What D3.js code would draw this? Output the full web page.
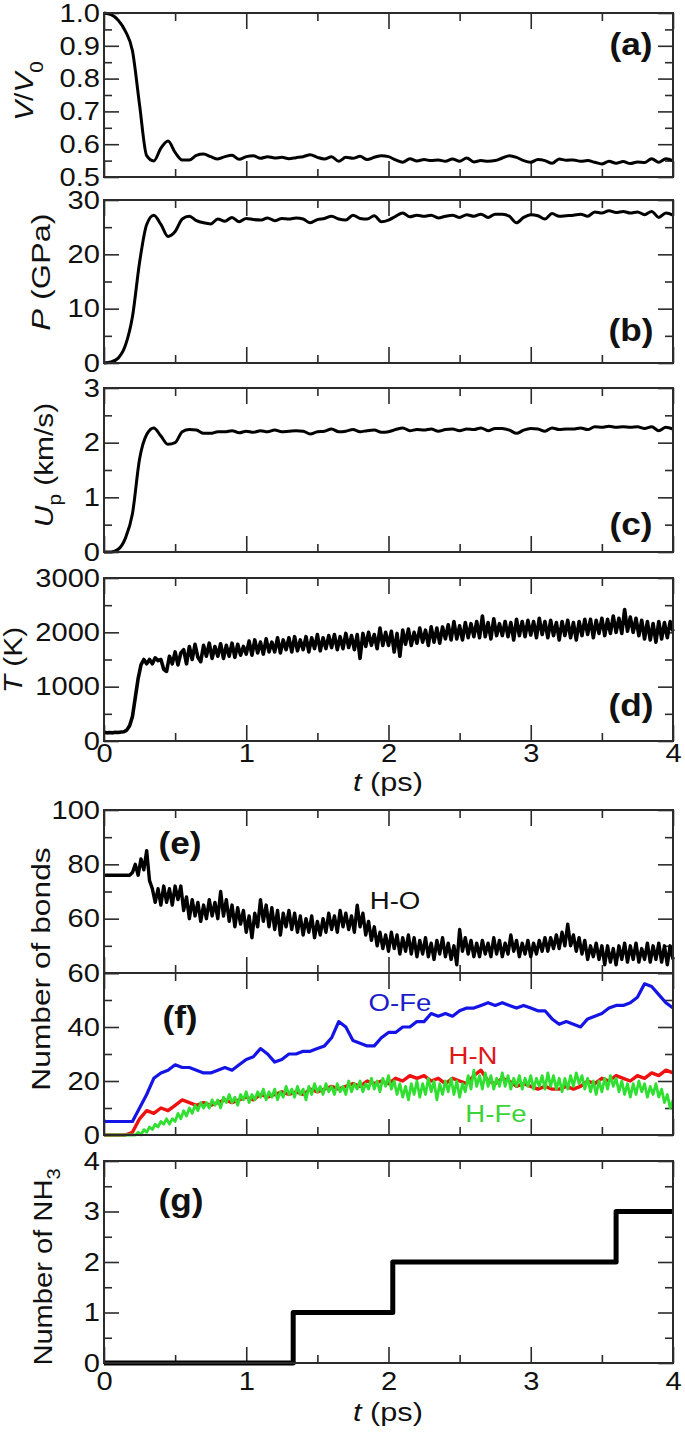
<!DOCTYPE html>
<html><head><meta charset="utf-8">
<script src="https://cdn.jsdelivr.net/npm/d3@7"></script>
<style>
body{margin:0;background:#fff}
svg text{font-family:"Liberation Sans",Arial,Helvetica,sans-serif}
</style>
</head><body>
<script>
// ---------------- data ----------------
const tDomain = [0, 4];
const xMajor = [0, 1, 2, 3, 4];
const xMinor = [0.5, 1.5, 2.5, 3.5];

// smooth series, sampled every 0.05 ps
const stepSmooth = 0.05;
const volume = [
  1.0,0.995,0.978,0.945,0.885,0.72,0.565,0.549,0.588,0.61,
  0.575,0.552,0.552,0.566,0.57,0.562,0.555,0.562,0.566,0.554,
  0.562,0.565,0.557,0.562,0.558,0.56,0.556,0.559,0.562,0.568,
  0.56,0.555,0.562,0.548,0.56,0.557,0.563,0.553,0.56,0.565,
  0.562,0.552,0.545,0.556,0.549,0.553,0.55,0.552,0.548,0.555,
  0.548,0.558,0.546,0.55,0.548,0.55,0.558,0.565,0.56,0.55,
  0.545,0.553,0.55,0.542,0.555,0.551,0.552,0.548,0.55,0.545,
  0.54,0.548,0.542,0.547,0.541,0.546,0.544,0.556,0.545,0.556,
  0.55];
const pressure = [
  0,0.2,0.9,3.2,8.5,18.5,25.5,27.2,25.5,23.3,
  24.2,26.5,27.0,26.2,25.8,25.6,26.5,26.1,26.8,26.0,
  26.6,26.4,26.3,26.7,26.2,26.6,26.5,26.7,26.5,25.8,
  26.4,26.6,27.0,26.5,26.3,27.2,26.6,26.5,27.1,26.0,
  26.3,27.0,27.6,26.9,27.2,27.0,27.2,26.7,27.0,27.2,
  26.8,27.3,27.0,27.4,26.8,27.4,27.4,27.0,25.8,26.8,
  27.3,27.1,26.5,27.5,27.0,27.1,27.2,27.4,27.0,27.8,
  27.6,28.0,27.7,27.9,27.6,27.8,27.3,27.9,26.8,27.6,
  27.2];
const particleVel = [
  0,0.0,0.05,0.25,0.7,1.7,2.15,2.27,2.12,1.97,
  2.0,2.2,2.24,2.23,2.17,2.17,2.2,2.2,2.22,2.18,
  2.21,2.19,2.22,2.2,2.23,2.2,2.21,2.22,2.21,2.16,
  2.2,2.21,2.25,2.2,2.21,2.24,2.2,2.22,2.23,2.19,
  2.2,2.24,2.27,2.22,2.24,2.23,2.25,2.21,2.24,2.25,
  2.22,2.25,2.24,2.27,2.22,2.26,2.26,2.23,2.17,2.23,
  2.26,2.25,2.21,2.27,2.24,2.25,2.25,2.27,2.24,2.29,
  2.28,2.3,2.28,2.29,2.28,2.29,2.26,2.29,2.22,2.28,
  2.25];
const bondOFe = [
  5,5,5,5,5,10,15,21,23,24,
  26,25,25,24,23,23,24,25,24,26,
  28,29,32,30,27,28,30,30,31,31,
  32,33,36,42,40,35,34,33,33,36,
  38,38,40,40,42,42,45,44,45,44,
  46,47,47,48,49,48,49,48,47,48,
  47,46,46,43,41,42,41,40,43,44,
  45,47,48,48,49,51,56,55,52,49,
  47];
const bondHN = [
  0,0,0,0,1,6,9,8,10,9,
  11,13,12,11,12,11,12,13,12,13,
  14,13,15,14,15,16,15,16,15,17,
  16,17,18,17,18,19,18,20,19,20,
  19,21,20,22,21,22,20,21,19,21,
  20,19,22,24,20,19,21,20,18,19,
  18,17,18,17,17,18,17,18,20,19,
  21,20,22,21,20,22,21,23,22,24,
  23];

// noisy series, sampled every 0.02 ps
const stepNoisy = 0.02;
const temperature = [
  160,150,155,150,160,155,165,170,200,280,
  450,800,1150,1400,1500,1420,1500,1420,1530,1480,
  1500,1320,1280,1560,1420,1640,1400,1620,1680,1420,
  1740,1500,1780,1540,1460,1760,1560,1800,1520,1740,
  1560,1790,1520,1760,1560,1800,1540,1780,1580,1740,
  1600,1840,1580,1860,1620,1820,1600,1880,1640,1820,
  1640,1900,1620,1860,1680,1900,1640,1920,1660,1860,
  1680,1920,1640,1900,1700,1960,1660,1900,1700,1940,
  1720,1960,1680,1920,1700,1980,1720,1940,1680,1960,
  1520,1980,1740,2000,1760,1960,1700,2080,1760,2000,
  1760,2020,1640,1980,1560,2040,1780,2060,1760,2000,
  1800,2080,1820,2040,1760,2100,1820,2080,1800,2100,
  1880,2140,1860,2200,1880,2120,1860,2180,1900,2160,
  1920,2200,1900,2300,1920,2180,1880,2250,1940,2160,
  1940,2200,1920,2180,1860,2240,1940,2200,1920,2220,
  1950,2200,1900,2260,1960,2200,1900,2220,1940,2180,
  1860,2200,1940,2220,1900,2180,1860,2200,1940,2240,
  1960,2240,1900,2220,1980,2260,1940,2240,1980,2300,
  2000,2260,1980,2420,2020,2280,2000,2260,1940,2220,
  1880,2200,1860,2160,1820,2200,1880,2180,1900,2200,
  2020];
const bondHO = [
  76,76,76,76,76,76,76,76,76,76,
  77,80,76,82,78,85,74,71,66,71,
  65,72,66,71,65,72,67,72,63,68,
  60,67,61,66,59,65,60,67,61,66,
  60,70,61,67,59,65,57,64,58,63,
  55,61,53,62,57,67,59,65,57,64,
  56,63,54,62,57,63,56,62,55,61,
  54,60,55,61,53,59,54,60,55,62,
  56,61,55,63,57,62,56,61,55,65,
  57,62,54,59,52,57,50,55,49,54,
  48,55,49,54,47,53,48,54,47,53,
  46,52,47,53,46,51,45,52,47,53,
  46,51,45,50,43,56,48,53,47,52,
  46,51,46,52,47,51,46,53,47,52,
  46,51,47,54,48,52,46,51,47,52,
  46,51,47,52,48,53,48,53,49,54,
  49,55,50,58,50,54,48,53,47,52,
  45,50,46,51,45,50,43,50,44,49,
  43,50,45,51,44,50,45,51,44,49,
  45,51,44,50,45,51,44,50,43,50,
  45];
const bondHFe = [
  0,0,0,0,0,0,0,0,0,0,
  0,0,1,0,2,1,3,2,4,3,
  5,4,6,4,6,5,8,6,9,7,
  10,8,11,9,12,10,12,10,13,11,
  13,10,14,12,15,12,14,11,15,13,
  16,12,15,13,16,14,17,13,16,14,
  17,13,16,14,18,15,17,14,18,15,
  17,13,18,15,19,16,18,15,19,16,
  18,15,19,16,18,15,20,16,19,17,
  20,16,19,17,21,17,20,16,21,18,
  22,17,20,15,19,14,18,13,19,15,
  20,14,19,15,21,16,20,13,19,15,
  20,16,21,15,20,14,19,16,22,17,
  24,18,22,17,23,18,22,17,21,18,
  23,18,22,17,21,18,22,17,21,18,
  22,17,21,18,22,17,23,18,22,17,
  21,16,21,17,22,18,23,19,22,17,
  21,16,20,15,20,16,21,17,22,18,
  21,16,20,15,19,14,19,15,20,16,
  19,14,18,15,19,14,17,12,15,10,
  13];

// number of NH3 molecules: step times and counts
const nh3Times  = [0, 1.33, 2.03, 3.6, 4];
const nh3Counts = [0, 1, 2, 3, 3];

// ---------------- drawing ----------------
const W = 685, H = 1433;
const svg = d3.select("body").append("svg").attr("width", W).attr("height", H);
const x = d3.scaleLinear().domain(tDomain).range([104, 673]);
const FRAME = "#2b2b2b";
const TICKFS = 26;
const FONT = '"Liberation Sans",Arial,sans-serif';

function toPts(vals, step){ return vals.map((v,i)=>[i*step, v]); }

// widen horizontal text around its anchor x
function widen(sel, s){
  sel.each(function(){
    const xa = +(this.getAttribute("x") || 0);
    d3.select(this).attr("transform", `translate(${xa},0) scale(${s},1) translate(${-xa},0)`);
  });
}

function axes(top, bottom, domain, yMajor, yMinor, yLabels, fmt, xLabels){
  const y = d3.scaleLinear().domain(domain).range([bottom, top]);
  const g = svg.append("g");
  const L = x.range()[0], R = x.range()[1];
  const tick = (gen)=> (sel)=>{ sel.call(gen); sel.select(".domain").remove();
      sel.selectAll("line").attr("stroke", FRAME).attr("stroke-width", 1.6); };
  g.append("g").attr("transform",`translate(${L},0)`).call(tick(d3.axisLeft(y).tickValues(yMajor).tickSizeInner(-15).tickSizeOuter(0).tickFormat("")));
  g.append("g").attr("transform",`translate(${L},0)`).call(tick(d3.axisLeft(y).tickValues(yMinor).tickSizeInner(-8).tickSizeOuter(0).tickFormat("")));
  g.append("g").attr("transform",`translate(${R},0)`).call(tick(d3.axisRight(y).tickValues(yMajor).tickSizeInner(-15).tickSizeOuter(0).tickFormat("")));
  g.append("g").attr("transform",`translate(${R},0)`).call(tick(d3.axisRight(y).tickValues(yMinor).tickSizeInner(-8).tickSizeOuter(0).tickFormat("")));
  g.append("g").attr("transform",`translate(0,${top})`).call(tick(d3.axisTop(x).tickValues(xMajor).tickSizeInner(-16).tickSizeOuter(0).tickFormat("")));
  g.append("g").attr("transform",`translate(0,${top})`).call(tick(d3.axisTop(x).tickValues(xMinor).tickSizeInner(-8).tickSizeOuter(0).tickFormat("")));
  g.append("g").attr("transform",`translate(0,${bottom})`).call(tick(d3.axisBottom(x).tickValues(xMajor).tickSizeInner(-16).tickSizeOuter(0).tickFormat("")));
  g.append("g").attr("transform",`translate(0,${bottom})`).call(tick(d3.axisBottom(x).tickValues(xMinor).tickSizeInner(-8).tickSizeOuter(0).tickFormat("")));
  const yl = g.append("g").attr("transform",`translate(${L},0)`)
    .call(d3.axisLeft(y).tickValues(yLabels).tickSize(0).tickPadding(4).tickFormat(fmt));
  yl.select(".domain").remove();
  yl.selectAll("text").attr("font-size", TICKFS).attr("fill","#111").attr("font-family",FONT).call(widen, 1.12);
  if (xLabels){
    const xl = g.append("g").attr("transform",`translate(0,${bottom})`)
      .call(d3.axisBottom(x).tickValues(xMajor).tickSize(0).tickPadding(xLabels).tickFormat(d3.format("d")));
    xl.select(".domain").remove();
    xl.selectAll("text").attr("font-size", TICKFS).attr("fill","#111").attr("font-family",FONT).call(widen, 1.12);
  }
  return {y, g, top, bottom};
}

function frame(p){
  svg.append("rect").attr("x", x.range()[0]).attr("y", p.top)
    .attr("width", x.range()[1]-x.range()[0]).attr("height", p.bottom-p.top)
    .attr("fill","none").attr("stroke", FRAME).attr("stroke-width", 2);
}

function drawLine(p, pts, color, width, curve){
  const line = d3.line().x(d=>x(d[0])).y(d=>p.y(d[1])).curve(curve || d3.curveLinear);
  svg.append("path").datum(pts).attr("d", line).attr("fill","none")
    .attr("stroke", color).attr("stroke-width", width).attr("stroke-linejoin","round");
}

function label(txt, cx, by, opts={}){
  return svg.append("text").attr("x", cx).attr("y", by).attr("text-anchor", opts.anchor||"middle")
    .attr("font-size", opts.size||32).attr("font-weight", opts.weight||"bold")
    .attr("fill", opts.color||"#111").text(txt).call(widen, opts.stretch||1.1);
}

function yTitle(bx, cy, parts, stretch){
  const t = svg.append("text").attr("transform",`translate(${bx},${cy}) rotate(-90) scale(${stretch||1.2},1)`)
    .attr("text-anchor","middle").attr("font-size",26).attr("fill","#111");
  parts.forEach(pt=>{
    const s = t.append("tspan").text(pt.t);
    if (pt.i) s.attr("font-style","italic");
    if (pt.sub) s.attr("font-size",18).attr("dy", pt.sub);
    if (pt.unsub) s.attr("dy", pt.unsub);
  });
}

const f1 = d3.format(".1f"), fd = d3.format("d");

// (a)
const pa = axes(13, 177, [0.5,1.0], [0.5,0.6,0.7,0.8,0.9,1.0], [0.55,0.65,0.75,0.85,0.95], [0.5,0.6,0.7,0.8,0.9,1.0], f1, null);
drawLine(pa, toPts(volume, stepSmooth), "#000", 3, d3.curveMonotoneX);
frame(pa);
// (b)
const pb = axes(200, 363, [0,30], [0,10,20,30], [5,15,25], [0,10,20,30], fd, null);
drawLine(pb, toPts(pressure, stepSmooth), "#000", 3, d3.curveMonotoneX);
frame(pb);
// (c)
const pc = axes(388, 552, [0,3], [0,1,2,3], [0.5,1.5,2.5], [0,1,2,3], fd, null);
drawLine(pc, toPts(particleVel, stepSmooth), "#000", 3, d3.curveMonotoneX);
frame(pc);
// (d)
const pd = axes(578, 741, [0,3000], [0,1000,2000,3000], [500,1500,2500], [0,1000,2000,3000], fd, 3);
drawLine(pd, toPts(temperature, stepNoisy), "#000", 3.6);
frame(pd);
// (e)
const pe = axes(810, 973, [40,100], [40,60,80,100], [50,70,90], [60,80,100], fd, null);
drawLine(pe, toPts(bondHO, stepNoisy), "#000", 3.4);
frame(pe);
// (f)
const pf = axes(973, 1135, [0,60], [0,20,40,60], [10,30,50], [0,20,40,60], fd, null);
drawLine(pf, toPts(bondOFe, stepSmooth), "#1414e6", 3.2);
drawLine(pf, toPts(bondHN, stepSmooth), "#f01010", 3.4);
drawLine(pf, toPts(bondHFe, stepNoisy), "#30e030", 2.8);
frame(pf);
// (g)
const pg = axes(1161, 1363, [0,4], [0,1,2,3,4], [0.5,1.5,2.5,3.5], [0,1,2,3,4], fd, 9);
drawLine(pg, nh3Times.map((t,i)=>[t, nh3Counts[i]]), "#000", 5, d3.curveStepAfter);
frame(pg);

// panel letters
label("(a)", 631, 55); label("(b)", 631, 341); label("(c)", 631, 535); label("(d)", 631, 716);
label("(e)", 180, 854); label("(f)", 180, 1028); label("(g)", 181, 1211);

// series labels
label("H-O", 395, 909, {size:24, weight:"normal", color:"#111", stretch:1.15});
label("O-Fe", 400, 1011, {size:24, weight:"normal", color:"#1c1cc8", stretch:1.15});
label("H-N", 473, 1064, {size:24, weight:"normal", color:"#e01818", stretch:1.15});
label("H-Fe", 496, 1122, {size:24, weight:"normal", color:"#3ad43a", stretch:1.15});

// axis titles
yTitle(33, 91, [{t:"V",i:1},{t:"/"},{t:"V",i:1},{t:"0",sub:10}], 1.15);
yTitle(50, 272, [{t:"P",i:1},{t:" (GPa)"}], 1.25);
yTitle(53, 465, [{t:"U",i:1},{t:"p",sub:8},{t:" (km/s)",unsub:-8}], 1.15);
yTitle(22, 660, [{t:"T",i:1},{t:" (K)"}], 1.15);
yTitle(50, 969, [{t:"Number of bonds"}], 1.22);
yTitle(52, 1267, [{t:"Number of NH"},{t:"3",sub:8}], 1.12);

function xTitle(by){
  const t = svg.append("text").attr("x", 388).attr("y", by).attr("text-anchor","middle")
    .attr("font-size",26).attr("fill","#111");
  t.append("tspan").attr("font-style","italic").text("t");
  t.append("tspan").text(" (ps)");
  t.call(widen, 1.18);
}
xTitle(791); xTitle(1421);
</script>
</body></html>
